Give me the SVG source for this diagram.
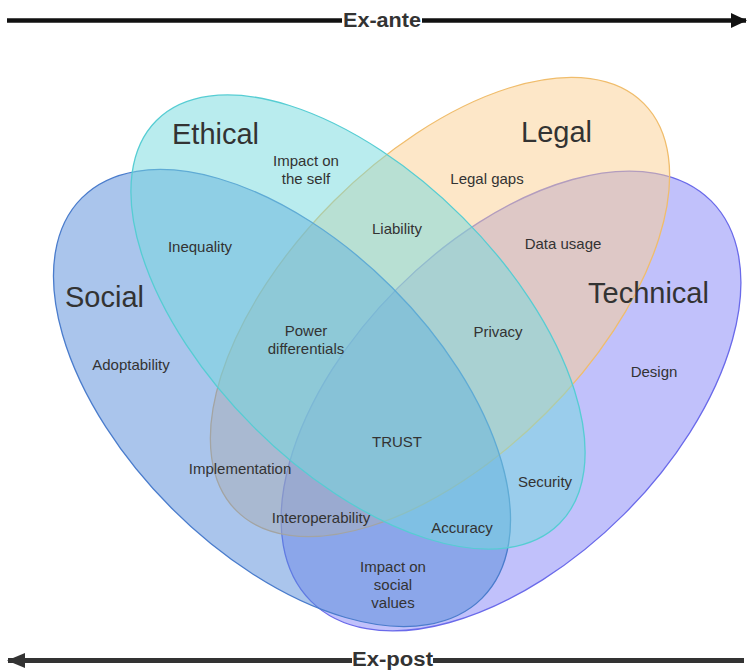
<svg xmlns="http://www.w3.org/2000/svg" width="747" height="670" viewBox="0 0 747 670">
  <style>
    .set { stroke-width: 1.3; fill-opacity: 0.5; }
    .title { font-family: "Liberation Sans", Arial, sans-serif; font-size: 29px; fill: #333; }
    .lbl { font-family: "Liberation Sans", Arial, sans-serif; font-size: 15px; fill: #333; text-anchor: middle; }
    .axis-text { font-family: "Liberation Sans", Arial, sans-serif; font-size: 20px; font-weight: bold; text-anchor: middle; }
  </style>
  <defs>
    <marker id="head-dark" viewBox="0 0 16 15" refX="15" refY="7.5" markerWidth="16" markerHeight="15" markerUnits="userSpaceOnUse" orient="auto">
      <path d="M0,0 L16,7.5 L0,15 Z" fill="#111"/>
    </marker>
    <marker id="head-grey" viewBox="0 0 18 15" refX="17" refY="7.5" markerWidth="18" markerHeight="15" markerUnits="userSpaceOnUse" orient="auto">
      <path d="M0,0 L18,7.5 L0,15 Z" fill="#333"/>
    </marker>
  </defs>

  <rect width="747" height="670" fill="#fff"/>

  <!-- sets, drawn back to front -->
  <g id="technical">
    <ellipse class="set" cx="511" cy="401" rx="283" ry="160" transform="rotate(-45 511 401)" fill="#8383f7" stroke="#6a6aea"/>
  </g>
  <g id="legal">
    <ellipse class="set" cx="440" cy="307" rx="288" ry="150" transform="rotate(-45 440 307)" fill="#fbcf91" stroke="#f0bd6c"/>
  </g>
  <g id="social">
    <ellipse class="set" cx="282" cy="398" rx="283" ry="156" transform="rotate(45 282 398)" fill="#558bd9" stroke="#4a7ccc"/>
  </g>
  <g id="ethical">
    <ellipse class="set" cx="358" cy="322" rx="285" ry="148" transform="rotate(45 358 322)" fill="#73d9dd" stroke="#56cdd3"/>
  </g>

  <!-- set titles -->
  <g id="titles">
    <text class="title" x="172" y="144">Ethical</text>
    <text class="title" x="521" y="142">Legal</text>
    <text class="title" x="65" y="307">Social</text>
    <text class="title" x="588" y="303">Technical</text>
  </g>

  <!-- region labels -->
  <g id="region-labels">
    <text class="lbl" x="306" y="166">Impact on</text>
    <text class="lbl" x="306" y="184">the self</text>
    <text class="lbl" x="487" y="184">Legal gaps</text>
    <text class="lbl" x="397" y="234">Liability</text>
    <text class="lbl" x="200" y="252">Inequality</text>
    <text class="lbl" x="563" y="249">Data usage</text>
    <text class="lbl" x="306" y="336">Power</text>
    <text class="lbl" x="306" y="354">differentials</text>
    <text class="lbl" x="498" y="337">Privacy</text>
    <text class="lbl" x="131" y="370">Adoptability</text>
    <text class="lbl" x="654" y="377">Design</text>
    <text class="lbl" x="397" y="447">TRUST</text>
    <text class="lbl" x="240" y="474">Implementation</text>
    <text class="lbl" x="545" y="487">Security</text>
    <text class="lbl" x="321" y="523">Interoperability</text>
    <text class="lbl" x="462" y="533">Accuracy</text>
    <text class="lbl" x="393" y="572">Impact on</text>
    <text class="lbl" x="393" y="590">social</text>
    <text class="lbl" x="393" y="608">values</text>
  </g>

  <!-- timeline arrows -->
  <g id="timeline">
    <g id="ex-ante">
      <line x1="7" y1="20.5" x2="342" y2="20.5" stroke="#111" stroke-width="4.5"/>
      <line x1="422" y1="20.5" x2="746" y2="20.5" stroke="#111" stroke-width="4.5" marker-end="url(#head-dark)"/>
      <text class="axis-text" x="382" y="27" fill="#333" textLength="78" lengthAdjust="spacingAndGlyphs">Ex-ante</text>
    </g>
    <g id="ex-post">
      <line x1="744" y1="660.5" x2="433" y2="660.5" stroke="#333" stroke-width="5"/>
      <line x1="352" y1="660.5" x2="8" y2="660.5" stroke="#333" stroke-width="5" marker-end="url(#head-grey)"/>
      <text class="axis-text" x="392.5" y="665.5" fill="#333" font-size="19" textLength="81" lengthAdjust="spacingAndGlyphs">Ex-post</text>
    </g>
  </g>
</svg>
